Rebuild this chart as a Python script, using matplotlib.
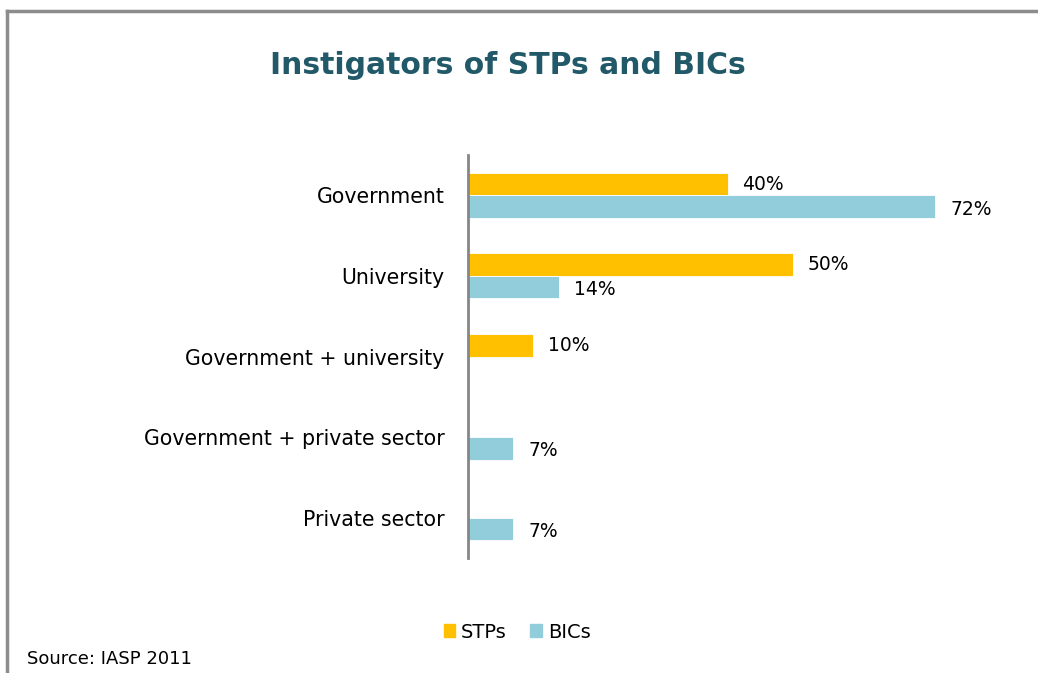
import numpy as np
import matplotlib.pyplot as plt
from matplotlib.lines import Line2D
from matplotlib.patches import Patch

## data
categories = ['Government', 'University', 'Government + university',
              'Government + private sector', 'Private sector']
stps = [40, 50, 10, None, None]
bics = [72, 14, None, 7, 7]

gold = '#FFC000'
blue = '#92CDDC'

fig = plt.figure(figsize=(10.38, 6.73), dpi=100)
ax = fig.add_axes([468/1038, 1 - 558/673, (1000-468)/1038, (558-155)/673])

y = np.arange(len(categories))
h = 0.28

for i, v in enumerate(stps):
    if v is not None:
        ax.barh(y[i] - h/2, v, height=h, color=gold, edgecolor='white', linewidth=0.6)
        ax.text(v + 2.3, y[i] - h/2, f'{v}%', va='center', ha='left', fontsize=13.5)
for i, v in enumerate(bics):
    if v is not None:
        ax.barh(y[i] + h/2, v, height=h, color=blue, edgecolor='white', linewidth=0.6)
        ax.text(v + 2.3, y[i] + h/2 + 0.03, f'{v}%', va='center', ha='left', fontsize=13.5)

ax.set_ylim(len(categories) - 0.5, -0.5)
ax.set_xlim(0, (1000-468)/6.49)
ax.set_yticks(y)
ax.set_yticklabels(categories, fontsize=14.8)
ax.tick_params(axis='y', length=0, pad=17)
ax.set_xticks([])
for s in ['top', 'right', 'bottom']:
    ax.spines[s].set_visible(False)
ax.spines['left'].set_color('#868686')
ax.spines['left'].set_linewidth(2)

# title, source, legend
fig.text(508/1038, 1 - 66/673, 'Instigators of STPs and BICs', ha='center', va='center',
         fontsize=21.5, fontweight='bold', color='#215968')
fig.text(27/1038, 1 - 659/673, 'Source: IASP 2011', ha='left', va='center', fontsize=13)
handles = [Patch(color=gold, label='STPs'), Patch(color=blue, label='BICs')]
fig.legend(handles=handles, loc='center', bbox_to_anchor=(517/1038, 1 - 632/673), ncol=2,
           frameon=False, fontsize=14, handlelength=0.6, handleheight=0.6,
           handletextpad=0.3, columnspacing=1.2)

# frame lines on top and left
fig.add_artist(Line2D([7/1038, 7/1038], [0, 1 - 11/673], color='#8c8c8c', lw=2.5,
                      transform=fig.transFigure))
fig.add_artist(Line2D([7/1038, 1], [1 - 11/673, 1 - 11/673], color='#8c8c8c', lw=2.5,
                      transform=fig.transFigure))

fig.savefig('out.png', dpi=100, facecolor='white')
